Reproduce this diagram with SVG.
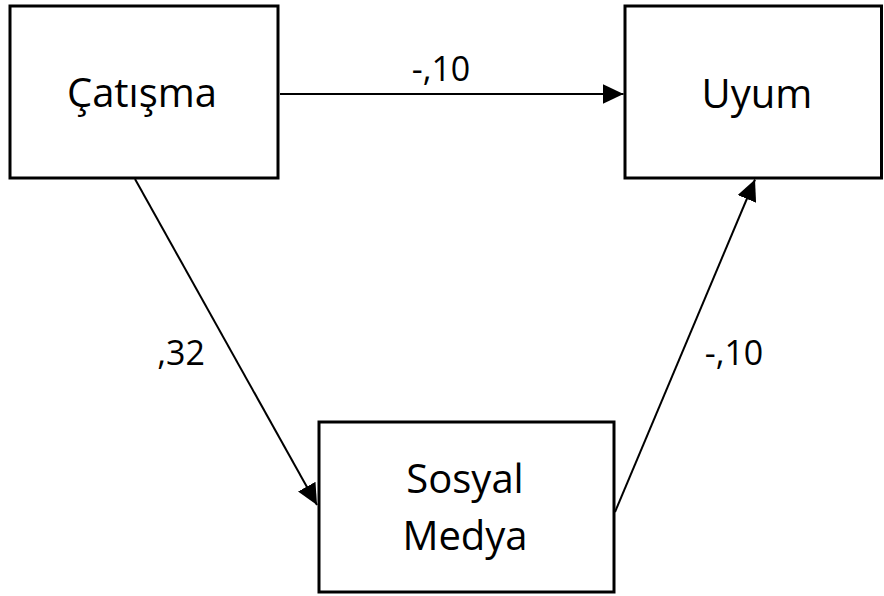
<svg xmlns="http://www.w3.org/2000/svg" width="884" height="596" viewBox="0 0 884 596">
  <defs>
    <style>
      .box { fill: #ffffff; stroke: #000000; stroke-width: 3; }
      .lbl { font-family: "Open Sans", "Liberation Sans", sans-serif; font-size: 40px; fill: #000000; text-anchor: middle; }
      .coef { font-family: "Open Sans", "Liberation Sans", sans-serif; font-size: 34px; fill: #000000; text-anchor: middle; }
      .edge { stroke: #000000; stroke-width: 2; fill: none; marker-end: url(#arrow); }
    </style>
    <marker id="arrow" viewBox="0 0 21 20" refX="21" refY="10" markerWidth="21" markerHeight="20" markerUnits="userSpaceOnUse" orient="auto">
      <path d="M0,0 L21,10 L0,20 Z" fill="#000000"/>
    </marker>
  </defs>
  <rect width="884" height="596" fill="#ffffff"/>
  <g id="connectors">
    <line class="edge" x1="280" y1="94" x2="623.5" y2="94"/>
    <line class="edge" x1="135" y1="179" x2="317" y2="505"/>
    <line class="edge" x1="615" y1="512" x2="755" y2="179.5"/>
    <text class="coef" x="441" y="81">-,10</text>
    <text class="coef" x="181" y="365">,32</text>
    <text class="coef" x="734" y="365">-,10</text>
  </g>
  <g id="node-catisma">
    <rect class="box" x="10" y="6" width="268" height="172"/>
    <text class="lbl" x="142" y="107">Çatışma</text>
  </g>
  <g id="node-uyum">
    <rect class="box" x="625" y="6" width="256.5" height="172"/>
    <text class="lbl" x="757" y="108">Uyum</text>
  </g>
  <g id="node-sosyal-medya">
    <rect class="box" x="319" y="422" width="295" height="170"/>
    <text class="lbl" x="465" y="493">Sosyal</text>
    <text class="lbl" x="465" y="550">Medya</text>
  </g>
</svg>
